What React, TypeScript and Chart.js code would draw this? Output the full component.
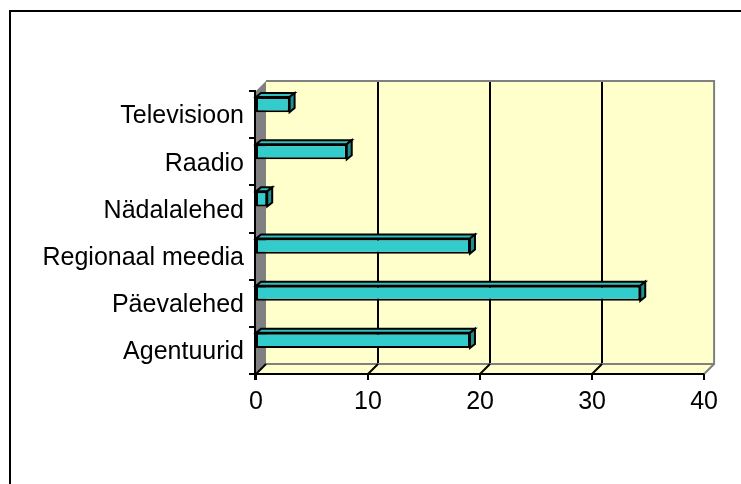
import React, { useEffect, useRef } from "react";
import { Chart, registerables } from "chart.js";

Chart.register(...registerables);

const categories = ["Agentuurid", "Päevalehed", "Regionaal meedia", "Nädalalehed", "Raadio", "Televisioon"];
const values = [19.1, 34.3, 19.1, 1, 8.1, 3];
const xMin = 0;
const xMax = 40;
const xStep = 10;

const DX = 10;
const DY = 10;
const BAR_D = 5;
const FONT = "'Liberation Sans', Arial, sans-serif";

const threeD = {
  id: "threeD",
  beforeDraw(chart: any) {
    const ctx = chart.ctx;
    ctx.save();
    ctx.fillStyle = "#ffffff";
    ctx.fillRect(0, 0, chart.width, chart.height);
    ctx.strokeStyle = "#000000";
    ctx.lineWidth = 2;
    ctx.strokeRect(10, 11, chart.width + 40, chart.height + 40);
    ctx.restore();
  },
  beforeDatasetsDraw(chart: any) {
    const ctx = chart.ctx;
    const a = chart.chartArea;
    const xs = chart.scales.x;
    const L = a.left, R = a.right, T = a.top, B = a.bottom;
    ctx.save();
    ctx.fillStyle = "#FFFFCC";
    ctx.fillRect(L + DX, T, R - L, B - T);
    ctx.beginPath();
    ctx.moveTo(L + DX, B);
    ctx.lineTo(R + DX, B);
    ctx.lineTo(R, B + DY);
    ctx.lineTo(L, B + DY);
    ctx.closePath();
    ctx.fill();
    ctx.fillStyle = "#808080";
    ctx.beginPath();
    ctx.moveTo(L, T + DY);
    ctx.lineTo(L + DX, T);
    ctx.lineTo(L + DX, B);
    ctx.lineTo(L, B + DY);
    ctx.closePath();
    ctx.fill();
    ctx.strokeStyle = "#000000";
    ctx.lineWidth = 2;
    for (let v = xMin + xStep; v < xMax; v += xStep) {
      const px = Math.round(xs.getPixelForValue(v)) + DX;
      ctx.beginPath();
      ctx.moveTo(px, T);
      ctx.lineTo(px, B);
      ctx.stroke();
    }
    ctx.strokeStyle = "#808080";
    ctx.lineWidth = 2;
    ctx.beginPath();
    ctx.moveTo(L + DX, T);
    ctx.lineTo(R + DX, T);
    ctx.lineTo(R + DX, B);
    ctx.lineTo(R, B + DY);
    ctx.stroke();
    ctx.beginPath();
    ctx.moveTo(L + DX, B);
    ctx.lineTo(R + DX, B);
    ctx.stroke();
    ctx.strokeStyle = "#000000";
    for (let v = xMin; v < xMax; v += xStep) {
      const px = Math.round(xs.getPixelForValue(v));
      ctx.beginPath();
      ctx.moveTo(px, B + DY);
      ctx.lineTo(px + DX, B);
      ctx.stroke();
    }
    ctx.beginPath();
    ctx.moveTo(L - 1, B + DY);
    ctx.lineTo(R, B + DY);
    ctx.stroke();
    for (let v = xMin; v <= xMax; v += xStep) {
      const px = Math.round(xs.getPixelForValue(v));
      ctx.beginPath();
      ctx.moveTo(px, B + DY);
      ctx.lineTo(px, B + DY + 6);
      ctx.stroke();
    }
    ctx.beginPath();
    ctx.moveTo(L - 1, T + DY);
    ctx.lineTo(L - 1, B + DY + 6);
    ctx.stroke();
    const n = categories.length;
    for (let k = 0; k <= n; k++) {
      const py = Math.round(T + (k * (B - T)) / n) + DY;
      ctx.beginPath();
      ctx.moveTo(L - 7, py);
      ctx.lineTo(L, py);
      ctx.stroke();
    }
    ctx.restore();
  },
  afterDatasetsDraw(chart: any) {
    const ctx = chart.ctx;
    const meta = chart.getDatasetMeta(0);
    ctx.save();
    ctx.lineWidth = 2;
    ctx.strokeStyle = "#000000";
    ctx.lineJoin = "miter";
    meta.data.forEach((el: any) => {
      const p = el.getProps(["x", "y", "base", "height"], true);
      const top = p.y - p.height / 2;
      const bot = p.y + p.height / 2;
      const x0 = p.base;
      const x1 = p.x;
      ctx.fillStyle = "#2FBFBF";
      ctx.beginPath();
      ctx.moveTo(x0, top);
      ctx.lineTo(x0 + BAR_D, top - BAR_D + 1);
      ctx.lineTo(x1 + BAR_D, top - BAR_D + 1);
      ctx.lineTo(x1, top);
      ctx.closePath();
      ctx.fill();
      ctx.stroke();
      ctx.fillStyle = "#1F8F8F";
      ctx.beginPath();
      ctx.moveTo(x1, top);
      ctx.lineTo(x1 + BAR_D, top - BAR_D + 1);
      ctx.lineTo(x1 + BAR_D, bot - BAR_D + 1);
      ctx.lineTo(x1, bot);
      ctx.closePath();
      ctx.fill();
      ctx.stroke();
    });
    ctx.restore();
  },
};

export default function App() {
  const ref = useRef<HTMLCanvasElement | null>(null);
  useEffect(() => {
    if (!ref.current) return;
    const chart = new Chart(ref.current, {
      type: "bar",
      data: {
        labels: categories,
        datasets: [
          {
            data: values,
            backgroundColor: "#33CCCC",
            borderColor: "#000000",
            borderWidth: 2,
            borderSkipped: false,
            inflateAmount: 0,
            categoryPercentage: 1,
            barPercentage: 0.32,
          },
        ],
      },
      options: {
        indexAxis: "y",
        animation: false,
        responsive: false,
        events: [],
        layout: { padding: { top: 81, right: 35, bottom: 60, left: 0 } },
        plugins: { legend: { display: false }, tooltip: { enabled: false } },
        scales: {
          x: {
            type: "linear",
            min: xMin,
            max: xMax,
            ticks: { stepSize: xStep, color: "#000", padding: 23, font: { family: FONT, size: 25 } },
            grid: { display: false, drawTicks: false },
            border: { display: false },
            afterFit: (s: any) => {
              s.height = 60;
            },
          },
          y: {
            type: "category",
            reverse: true,
            ticks: { color: "#000", padding: 12, labelOffset: 12, font: { family: FONT, size: 25 } },
            grid: { display: false, drawTicks: false },
            border: { display: false },
            afterFit: (s: any) => {
              s.width = 256;
            },
          },
        },
      },
      plugins: [threeD],
    });
    return () => chart.destroy();
  }, []);
  return (
    <div style={{ position: "absolute", left: 0, top: 0, width: 741, height: 484 }}>
      <canvas ref={ref} width={741} height={484} style={{ display: "block" }} />
    </div>
  );
}
